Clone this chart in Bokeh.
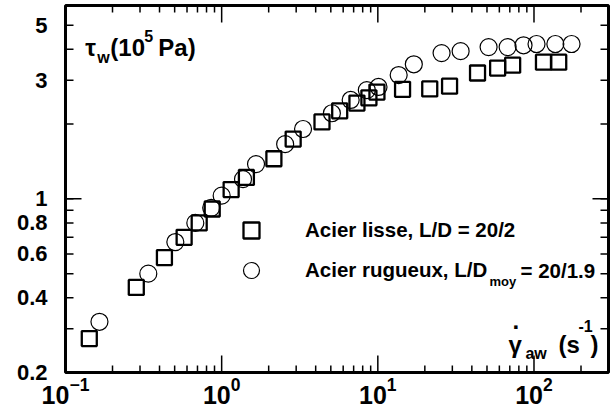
from bokeh.plotting import figure
from bokeh.models import FixedTicker, Label, Legend, LegendItem, LogTickFormatter
from bokeh.embed import file_html
from bokeh.resources import INLINE

# ---- data ----
smooth_rate = [0.142, 0.284, 0.43, 0.575, 0.718, 0.87, 1.15, 1.44, 2.16, 2.87, 4.39, 5.7,
               7.35, 8.77, 9.87, 14.4, 21.5, 28.8, 43.5, 58.5, 73, 115, 144]
smooth_stress = [0.274, 0.44, 0.58, 0.70, 0.80, 0.91, 1.09, 1.22, 1.45, 1.74, 2.04, 2.26,
                 2.43, 2.55, 2.69, 2.76, 2.77, 2.84, 3.21, 3.36, 3.45, 3.55, 3.55]
rough_rate = [0.165, 0.339, 0.505, 0.678, 0.857, 1.0, 1.37, 1.66, 2.55, 3.32, 5.08, 6.7,
              8.5, 10.1, 13.6, 17, 25.6, 33.9, 51.2, 67.8, 85.7, 103.8, 137, 174]
rough_stress = [0.32, 0.50, 0.67, 0.80, 0.92, 1.03, 1.2, 1.38, 1.66, 1.91, 2.21, 2.5,
                2.74, 2.82, 3.15, 3.48, 3.86, 3.93, 4.08, 4.08, 4.15, 4.2, 4.2, 4.2]

legend_labels = ["Acier lisse, L/D = 20/2", "Acier rugueux, L/D"]
legend_sub = "moy"
legend_tail = "= 20/1.9"

x_lim = (0.1, 300)
y_lim = (0.2, 6)
x_major = [0.1, 1, 10, 100]
x_minor = [0.2, 0.3, 0.4, 0.5, 0.6, 0.7, 0.8, 0.9, 2, 3, 4, 5, 6, 7, 8, 9,
           20, 30, 40, 50, 60, 70, 80, 90, 200, 300]
y_ticks = [0.2, 0.3, 0.4, 0.5, 0.6, 0.7, 0.8, 0.9, 1, 2, 3, 4, 5]
y_tick_labels = ["0.2", "", "0.4", "", "0.6", "", "0.8", "", "1", "", "3", "", "5"]
y_long = [1]

FONT = "Liberation Sans"

p = figure(width=613, height=410, x_axis_type="log", y_axis_type="log",
           x_range=x_lim, y_range=y_lim,
           output_backend="svg", toolbar_location=None,
           min_border_left=65, min_border_right=5, min_border_top=5, min_border_bottom=38)
p.grid.visible = False
p.outline_line_color = "black"
p.outline_line_width = 3
p.background_fill_color = "white"
p.border_fill_color = "white"


def bare(ax):
    ax.axis_line_color = None
    ax.major_tick_line_color = None
    ax.minor_tick_line_color = None
    ax.major_tick_in = 0
    ax.major_tick_out = 0
    ax.minor_tick_in = 0
    ax.minor_tick_out = 0
    ax.major_label_text_font = FONT
    ax.major_label_text_font_style = "bold"
    ax.major_label_text_color = "black"


# y axis: labels only (tick marks drawn below as clipped dash markers)
ya = p.yaxis[0]
bare(ya)
ya.ticker = FixedTicker(ticks=y_ticks, minor_ticks=[])
ya.major_label_overrides = dict(zip(y_ticks, y_tick_labels))
ya.major_label_text_font_size = "22px"
ya.major_label_standoff = 18

# x axis: 10^n labels (base + superscript exponent)
xa = p.xaxis[0]
bare(xa)
xa.ticker = FixedTicker(ticks=x_major, minor_ticks=[])
xa.formatter = LogTickFormatter()
xa.major_label_text_font_size = "25px"
xa.major_label_standoff = 4

# tick marks, inside the frame on all four sides
tick_style = dict(marker="dash", line_color="black", line_width=1.5)
for xe in x_lim:
    p.scatter([xe] * len(y_ticks), y_ticks, size=16, **tick_style)
    p.scatter([xe] * len(y_long), y_long, size=32, **tick_style)
for ye in y_lim:
    p.scatter(x_major, [ye] * len(x_major), size=34, angle=90, angle_units="deg", **tick_style)
    p.scatter(x_minor, [ye] * len(x_minor), size=14, angle=90, angle_units="deg", **tick_style)

common = dict(text_font=FONT, text_font_style="bold", text_color="black")

r_sq = p.scatter(smooth_rate, smooth_stress, marker="square", size=15,
                 fill_color=None, line_color="black", line_width=2.3)
r_ci = p.scatter(rough_rate, rough_stress, marker="circle", size=17,
                 fill_color=None, line_color="black", line_width=1.2)

legend = Legend(items=[LegendItem(label=legend_labels[0], renderers=[r_sq]),
                       LegendItem(label=legend_labels[1], renderers=[r_ci])],
                location=(166, 82), glyph_width=40, glyph_height=40,
                label_standoff=34, spacing=-3, padding=0, margin=0,
                border_line_color=None, background_fill_alpha=0,
                label_text_font=FONT, label_text_font_style="bold",
                label_text_font_size="20.5px", label_text_color="black")
p.add_layout(legend)

p.add_layout(Label(x=424, y=91, x_units="screen", y_units="screen", text=legend_sub,
                   text_font_size="13px", text_baseline="alphabetic", **common))
p.add_layout(Label(x=455, y=102, x_units="screen", y_units="screen", text=legend_tail,
                   text_font_size="20.5px", text_baseline="middle", **common))

# y title: tau_w (10^5 Pa)
ya_x, ya_y = 0.134, 3.70
for txt, dx, dy, fs in [("τ", 0, 10, "24px"), ("w", 12, 0, "16px"),
                        ("(10", 25, 10, "24px"), ("5", 59, 22, "16px"), ("Pa)", 73, 10, "24px")]:
    p.add_layout(Label(x=ya_x, y=ya_y, x_offset=dx, y_offset=dy, text=txt,
                       text_font_size=fs, text_baseline="alphabetic", **common))

# x title: gamma-dot_aw (s^-1)
xa_x, xa_y = 68.6, 0.2385
for txt, dx, dy, fs in [("γ", 0, 9, "24px"), (".", 4, 33, "24px"), ("aw", 17, 0, "16px"),
                        ("(s", 50, 9, "24px"), ("-1", 70, 28, "16px"), (")", 82, 9, "24px")]:
    p.add_layout(Label(x=xa_x, y=xa_y, x_offset=dx, y_offset=dy, text=txt,
                       text_font_size=fs, text_baseline="alphabetic", **common))

open("out.html", "w").write(file_html(p, INLINE))
